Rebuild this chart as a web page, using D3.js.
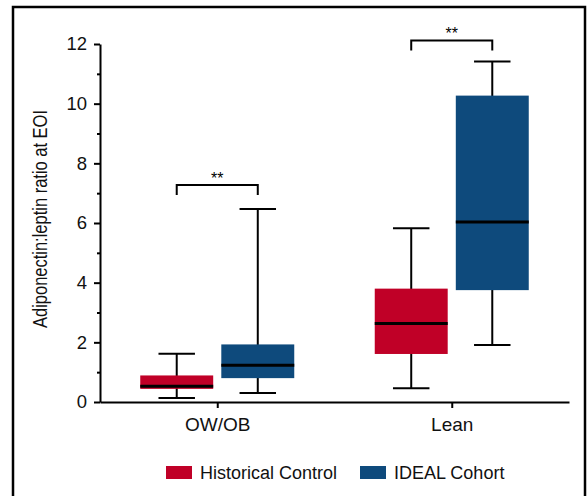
<!DOCTYPE html>
<html>
<head>
<meta charset="utf-8">
<script src="https://cdn.jsdelivr.net/npm/d3@7"></script>
<style>
  body { margin: 0; background: #fff; }
  svg { display: block; font-family: "Liberation Sans", Arial, sans-serif; }
</style>
</head>
<body>
<div id="chart"></div>
<script>
// groups on the x axis and the two series in each
var groups = ["OW/OB", "Lean"];
var series = ["Historical Control", "IDEAL Cohort"];
var colors = ["#c00027", "#0e4a7c"];

// box stats per series, one entry per group: [min, q1, median, q3, max]
var historical = [
  [0.13, 0.44, 0.53, 0.89, 1.62],
  [0.46, 1.61, 2.63, 3.80, 5.82]
];
var ideal = [
  [0.30, 0.80, 1.23, 1.93, 6.47],
  [1.91, 3.75, 6.03, 10.27, 11.41]
];

// significance brackets (height in data units)
var sigLevel = [7.27, 12.12];
var sigLabel = ["**", "**"];

var yMajor = [0, 2, 4, 6, 8, 10, 12];
var yMinor = [1, 3, 5, 7, 9, 11];

var width = 588, height = 496;

var svg = d3.select("#chart").append("svg")
  .attr("width", width)
  .attr("height", height);

// outer frame
svg.append("rect")
  .attr("x", 13).attr("y", 7)
  .attr("width", 572).attr("height", 520)
  .attr("fill", "none")
  .attr("stroke", "#000")
  .attr("stroke-width", 2.5);

var y = d3.scaleLinear().domain([0, 12]).range([402, 44]);
var x0 = d3.scalePoint().domain(groups).range([100, 569]).padding(0.5);
var x1 = d3.scaleBand().domain(series).range([-77, 77]).paddingInner(0.1);

// flatten into one row per box
var boxes = [];
groups.forEach(function (g, gi) {
  [historical, ideal].forEach(function (s, si) {
    var v = s[gi];
    boxes.push({ group: g, series: series[si], color: colors[si],
      min: v[0], q1: v[1], med: v[2], q3: v[3], max: v[4] });
  });
});

var bw = x1.bandwidth();
var cx = d => x0(d.group) + x1(d.series) + bw / 2;

var box = svg.append("g").selectAll("g")
  .data(boxes)
  .enter().append("g");

// whisker line
box.append("line")
  .attr("x1", cx).attr("x2", cx)
  .attr("y1", d => y(d.min)).attr("y2", d => y(d.max))
  .attr("stroke", "#000").attr("stroke-width", 2);

// whisker caps
["min", "max"].forEach(function (k) {
  box.append("line")
    .attr("x1", d => cx(d) - bw / 4).attr("x2", d => cx(d) + bw / 4)
    .attr("y1", d => y(d[k])).attr("y2", d => y(d[k]))
    .attr("stroke", "#000").attr("stroke-width", 2);
});

box.append("rect")
  .attr("x", d => x0(d.group) + x1(d.series))
  .attr("width", bw)
  .attr("y", d => y(d.q3))
  .attr("height", d => y(d.q1) - y(d.q3))
  .attr("fill", d => d.color);

// median
box.append("line")
  .attr("x1", d => x0(d.group) + x1(d.series)).attr("x2", d => x0(d.group) + x1(d.series) + bw)
  .attr("y1", d => y(d.med)).attr("y2", d => y(d.med))
  .attr("stroke", "#000").attr("stroke-width", 3);

// y axis, major + minor ticks
var yAxis = svg.append("g")
  .attr("transform", "translate(100,0)")
  .call(d3.axisLeft(y).tickValues(yMajor).tickSize(6).tickSizeOuter(0).tickPadding(7));
svg.append("g")
  .attr("transform", "translate(100,0)")
  .call(d3.axisLeft(y).tickValues(yMinor).tickSize(3).tickSizeOuter(0).tickFormat(""))
  .select(".domain").remove();

yAxis.selectAll("text")
  .attr("font-size", 18.5)
  .attr("font-family", "Liberation Sans, Arial, sans-serif")
  .attr("fill", "#111");

// x axis
var xAxis = svg.append("g")
  .attr("transform", "translate(0,402)")
  .call(d3.axisBottom(x0).tickSize(6).tickSizeOuter(0).tickPadding(10));
xAxis.selectAll("text")
  .attr("font-size", 19)
  .attr("font-family", "Liberation Sans, Arial, sans-serif")
  .attr("fill", "#111");

svg.selectAll(".domain").attr("stroke-width", 2).attr("stroke", "#000");
svg.selectAll(".tick line").attr("stroke-width", 2).attr("stroke", "#000");

// y axis title (condensed look)
svg.append("text")
  .attr("transform", "translate(47,219) rotate(-90)")
  .attr("text-anchor", "middle")
  .attr("font-size", 20)
  .attr("textLength", 218)
  .attr("lengthAdjust", "spacingAndGlyphs")
  .attr("fill", "#111")
  .text("Adiponectin:leptin ratio at EOI");

// significance brackets
groups.forEach(function (g, gi) {
  var xa = x0(g) + x1(series[0]) + bw / 2;
  var xb = x0(g) + x1(series[1]) + bw / 2;
  var yt = y(sigLevel[gi]);
  svg.append("path")
    .attr("d", "M" + xa + "," + (yt + 10) + "V" + yt + "H" + xb + "V" + (yt + 10))
    .attr("fill", "none")
    .attr("stroke", "#000")
    .attr("stroke-width", 2);
  svg.append("text")
    .attr("x", (xa + xb) / 2)
    .attr("y", yt - 1)
    .attr("text-anchor", "middle")
    .attr("font-size", 16)
    .attr("fill", "#000")
    .text(sigLabel[gi]);
});

// legend
var legendX = [166, 360];
var legend = svg.append("g").selectAll("g")
  .data(series)
  .enter().append("g")
  .attr("transform", (d, i) => "translate(" + legendX[i] + ",466)");

legend.append("rect")
  .attr("width", 26).attr("height", 13)
  .attr("fill", (d, i) => colors[i]);

legend.append("text")
  .attr("x", 34)
  .attr("y", 12.5)
  .attr("font-size", 18)
  .attr("fill", "#111")
  .text(d => d);
</script>
</body>
</html>
